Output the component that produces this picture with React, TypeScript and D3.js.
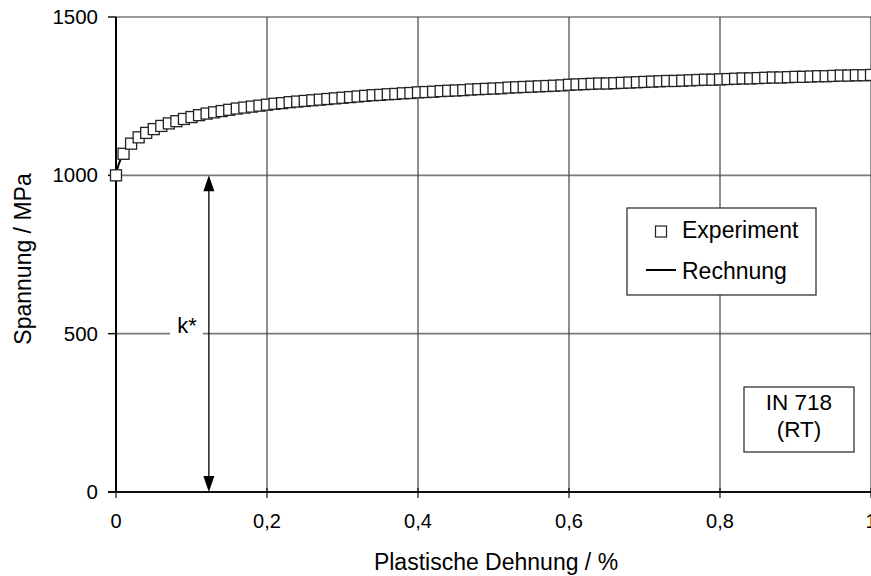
import * as d3 from 'd3'

// plastic strain in %, stress in MPa
const expStrain = [
  0, 0.01, 0.02, 0.03, 0.04, 0.05, 0.06, 0.07, 0.08, 0.09, 0.1, 0.11, 0.12, 0.13, 0.14, 0.15, 0.16, 0.17, 0.18,
  0.19, 0.2, 0.21, 0.22, 0.23, 0.24, 0.25, 0.26, 0.27, 0.28, 0.29, 0.3, 0.31, 0.32, 0.33, 0.34, 0.35, 0.36, 0.37,
  0.38, 0.39, 0.4, 0.41, 0.42, 0.43, 0.44, 0.45, 0.46, 0.47, 0.48, 0.49, 0.5, 0.51, 0.52, 0.53, 0.54, 0.55, 0.56,
  0.57, 0.58, 0.59, 0.6, 0.61, 0.62, 0.63, 0.64, 0.65, 0.66, 0.67, 0.68, 0.69, 0.7, 0.71, 0.72, 0.73, 0.74, 0.75,
  0.76, 0.77, 0.78, 0.79, 0.8, 0.81, 0.82, 0.83, 0.84, 0.85, 0.86, 0.87, 0.88, 0.89, 0.9, 0.91, 0.92, 0.93, 0.94,
  0.95, 0.96, 0.97, 0.98, 0.99, 1.0,
]
const expStress = [
  1000, 1068, 1100, 1120, 1134, 1146, 1156, 1164, 1171, 1178, 1184, 1190, 1195, 1199, 1203, 1207, 1211, 1214, 1217,
  1220, 1223, 1226, 1228, 1231, 1233, 1235, 1237, 1239, 1241, 1243, 1245, 1247, 1249, 1251, 1253, 1254, 1256, 1257,
  1259, 1260, 1262, 1263, 1264, 1266, 1267, 1268, 1269, 1271, 1272, 1273, 1274, 1275, 1277, 1278, 1279, 1280, 1281,
  1282, 1283, 1284, 1286, 1287, 1288, 1289, 1290, 1290, 1291, 1292, 1293, 1294, 1295, 1296, 1297, 1298, 1298, 1299,
  1300, 1301, 1302, 1302, 1303, 1304, 1305, 1306, 1306, 1307, 1308, 1309, 1309, 1310, 1311, 1311, 1312, 1313, 1313,
  1314, 1315, 1315, 1316, 1316, 1317,
]

const calcStrain = [0, 0.003, 0.006, 0.01, 0.02, 0.04, 0.06, 0.1, 0.15, 0.2, 0.3, 0.4, 0.5, 0.6, 0.7, 0.8, 0.9, 1.0]
const calcStress = [1000, 1030, 1050, 1066, 1096, 1130, 1152, 1182, 1205, 1222, 1245, 1261, 1273, 1285, 1294, 1303, 1310, 1317]

const xTicks = [0, 0.2, 0.4, 0.6, 0.8, 1]
const yTicks = [0, 500, 1000, 1500]
const kStarStrain = 0.123
const kStarTop = 1000

const width = 871
const height = 576
const font = 'Liberation Sans, Arial, sans-serif'

export default function App() {
  const x = d3.scaleLinear().domain([0, 1]).range([116, 871])
  const y = d3.scaleLinear().domain([0, 1500]).range([492, 17])

  const line = d3
    .line<number>()
    .x((_, i) => x(calcStrain[i]))
    .y((d) => y(d))
    .curve(d3.curveMonotoneX)

  const fmt = (v: number) => String(v).replace('.', ',')
  const ax = x(kStarStrain)
  const m = 11

  return (
    <svg
      width={width}
      height={height}
      style={{ position: 'absolute', left: 0, top: 0, background: '#fff' }}
      fontFamily={font}
    >
      <rect width={width} height={height} fill="#fff" />
      {/* horizontal grid */}
      {yTicks
        .filter((t) => t > 0)
        .map((t) => (
          <line key={'h' + t} x1={x(0)} x2={x(1)} y1={y(t)} y2={y(t)} stroke="#7a7a7a" strokeWidth={1.6} />
        ))}
      {/* vertical grid */}
      {xTicks
        .filter((t) => t > 0)
        .map((t) => (
          <line key={'v' + t} x1={x(t)} x2={x(t)} y1={y(1500)} y2={y(0)} stroke="#444" strokeWidth={1.2} />
        ))}

      {/* white gap for k* label */}
      <rect x={170} y={y(500) - 3} width={ax - 6 - 170} height={6} fill="#fff" />
      <text x={187} y={y(500) - 1} fontSize={22} textAnchor="middle" fill="#000">
        k*
      </text>

      {/* k* arrow */}
      <line x1={ax} x2={ax} y1={y(kStarTop) + 12} y2={y(0) - 12} stroke="#000" strokeWidth={1.3} />
      <path d={`M${ax},${y(kStarTop)} l-5.5,16 l11,0 z`} fill="#000" />
      <path d={`M${ax},${y(0)} l-5.5,-16 l11,0 z`} fill="#000" />

      {/* axes */}
      <line x1={x(0)} x2={x(0)} y1={y(1500)} y2={y(0)} stroke="#000" strokeWidth={2} />
      <line x1={x(0) - 8} x2={x(1)} y1={y(0)} y2={y(0)} stroke="#111" strokeWidth={2} />
      {yTicks.map((t) => (
        <g key={'yt' + t}>
          <line x1={x(0) - 8} x2={x(0)} y1={y(t)} y2={y(t)} stroke="#111" strokeWidth={1.5} />
          <text x={98} y={y(t) + 7} fontSize={20.5} textAnchor="end" fill="#000">
            {t}
          </text>
        </g>
      ))}
      {xTicks.map((t) => (
        <g key={'xt' + t}>
          <line x1={x(t)} x2={x(t)} y1={y(0) - 4} y2={y(0) + 6} stroke="#111" strokeWidth={1.2} />
          <text x={x(t)} y={528} fontSize={20} textAnchor="middle" fill="#000">
            {fmt(t)}
          </text>
        </g>
      ))}

      {/* axis titles */}
      <text x={496} y={570} fontSize={23} textAnchor="middle" fill="#000">
        Plastische Dehnung / %
      </text>
      <text transform={`translate(31,259) rotate(-90)`} fontSize={23} textAnchor="middle" fill="#000">
        Spannung / MPa
      </text>

      {/* calculation */}
      <path d={line(calcStress) ?? ''} fill="none" stroke="#000" strokeWidth={2} />

      {/* experiment */}
      {expStress.map((v, i) => (
        <rect
          key={'e' + i}
          x={x(expStrain[i]) - m / 2}
          y={y(v) - m / 2}
          width={m}
          height={m}
          fill="#fff"
          stroke="#222"
          strokeWidth={1.3}
        />
      ))}

      {/* legend */}
      <rect x={627} y={208} width={189} height={87} fill="#fff" stroke="#333" strokeWidth={1.3} />
      <rect x={655.5} y={226} width={11} height={11} fill="#fff" stroke="#222" strokeWidth={1.2} />
      <text x={682} y={238} fontSize={23} fill="#000">
        Experiment
      </text>
      <line x1={646} x2={676} y1={270} y2={270} stroke="#000" strokeWidth={2} />
      <text x={682} y={279} fontSize={23} fill="#000">
        Rechnung
      </text>

      {/* material box */}
      <rect x={744} y={387} width={110} height={65} fill="#fff" stroke="#333" strokeWidth={1.3} />
      <text x={799} y={410} fontSize={22.5} textAnchor="middle" fill="#000">
        IN 718
      </text>
      <text x={799} y={437} fontSize={22.5} textAnchor="middle" fill="#000">
        (RT)
      </text>
    </svg>
  )
}
